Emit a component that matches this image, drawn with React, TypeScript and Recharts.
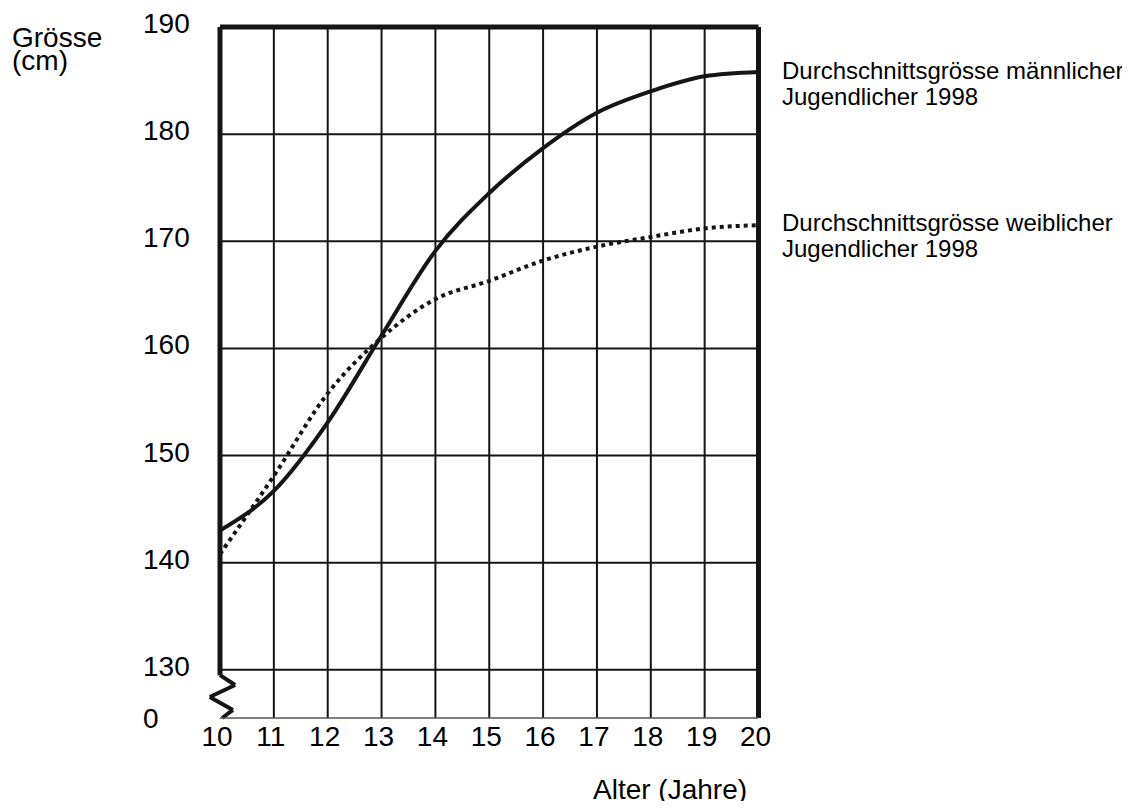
import React from "react";
import { LineChart, Line, XAxis, YAxis, ReferenceLine } from "recharts";

const years = [10, 11, 12, 13, 14, 15, 16, 17, 18, 19, 20];
const maleHeights = [143.0, 146.7, 153.1, 161.2, 169.1, 174.5, 178.7, 182.0, 184.0, 185.4, 185.8];
const femaleHeights = [140.8, 148.1, 155.8, 161.0, 164.6, 166.3, 168.2, 169.5, 170.4, 171.2, 171.5];

const yBreakValue = 125.5; // axis origin shown as "0" below the break
const yTicks = [125.5, 130, 140, 150, 160, 170, 180, 190];
const horizontalGrid = [130, 140, 150, 160, 170, 180];
const verticalGrid = [11, 12, 13, 14, 15, 16, 17, 18, 19];

const yTitle = ["Grösse", "(cm)"];
const xTitle = "Alter (Jahre)";
const maleLabel = ["Durchschnittsgrösse männlicher", "Jugendlicher 1998"];
const femaleLabel = ["Durchschnittsgrösse weiblicher", "Jugendlicher 1998"];

// break zig-zag on the y axis (data coordinates)
const breakMark = [
  { x: 10, y: 129.5 },
  { x: 10.28, y: 128.58 },
  { x: 9.81, y: 127.46 },
  { x: 10.24, y: 126.25 },
  { x: 10.04, y: 125.5 },
];

const data = years.map((yr, i) => ({ age: yr, male: maleHeights[i], female: femaleHeights[i] }));

const FONT = "Liberation Sans, Arial, Helvetica, sans-serif";
const INK = "#151515";

const XTick = (props: any) => {
  const { x, y, payload } = props;
  return (
    <text x={x - 3} y={y + 28} textAnchor="middle" fontSize={28} fontFamily={FONT} fill="#000">
      {payload.value}
    </text>
  );
};

const YTick = (props: any) => {
  const { x, y, payload } = props;
  const isBreak = payload.value === yBreakValue;
  return (
    <text x={x - 77} y={y + (isBreak ? 10 : 6)} textAnchor="start" fontSize={28} fontFamily={FONT} fill="#000">
      {isBreak ? "0" : String(payload.value)}
    </text>
  );
};

export default function App() {
  const W = 1114;
  const H = 793;
  return (
    <div style={{ position: "relative", width: W, height: H }}>
      <style>{`body{overflow:hidden}`}</style>
      <LineChart
        width={W}
        height={H}
        data={data}
        margin={{ top: 19, right: 363.5, bottom: 43, left: 0 }}
      >
        <XAxis
          dataKey="age"
          type="number"
          domain={[10, 20]}
          ticks={years}
          interval={0}
          tickLine={false}
          tickSize={0}
          tickMargin={0}
          height={40}
          axisLine={{ stroke: "#555", strokeWidth: 1.5 }}
          tick={<XTick />}
        />
        <YAxis
          type="number"
          domain={[yBreakValue, 190]}
          ticks={yTicks}
          interval={0}
          width={212}
          axisLine={false}
          tickLine={false}
          tickSize={0}
          tickMargin={0}
          tick={<YTick />}
          allowDataOverflow
        />
        {horizontalGrid.map((v) => (
          <ReferenceLine key={"h" + v} y={v} stroke={INK} strokeWidth={2} />
        ))}
        {verticalGrid.map((v) => (
          <ReferenceLine key={"v" + v} x={v} stroke={INK} strokeWidth={2} />
        ))}
        <ReferenceLine y={190} stroke={INK} strokeWidth={5} />
        <ReferenceLine x={20} stroke={INK} strokeWidth={5} />
        <ReferenceLine
          segment={[{ x: 10, y: 129.5 }, { x: 10, y: 190 }]}
          stroke={INK}
          strokeWidth={5}
          ifOverflow="visible"
        />
        {breakMark.slice(0, -1).map((p, i) => (
          <ReferenceLine
            key={"b" + i}
            segment={[p, breakMark[i + 1]]}
            stroke={INK}
            strokeWidth={4}
            ifOverflow="visible"
          />
        ))}
        <Line
          dataKey="female"
          type="monotone"
          stroke={INK}
          strokeWidth={4}
          strokeDasharray="4 4"
          dot={false}
          activeDot={false}
          isAnimationActive={false}
        />
        <Line
          dataKey="male"
          type="monotone"
          stroke={INK}
          strokeWidth={4}
          dot={false}
          activeDot={false}
          isAnimationActive={false}
        />
      </LineChart>
      <svg
        width={W}
        height={H}
        style={{ position: "absolute", left: 0, top: 0, overflow: "visible", pointerEvents: "none" }}
      >
        <g fontFamily={FONT} fill="#000">
          <text x={4} y={39} fontSize={28}>{yTitle[0]}</text>
          <text x={4} y={62} fontSize={28}>{yTitle[1]}</text>
          <text x={585} y={791} fontSize={28}>{xTitle}</text>
          <text x={774} y={71} fontSize={24}>{maleLabel[0]}</text>
          <text x={774} y={97} fontSize={24}>{maleLabel[1]}</text>
          <text x={774} y={223} fontSize={24}>{femaleLabel[0]}</text>
          <text x={774} y={249} fontSize={24}>{femaleLabel[1]}</text>
        </g>
      </svg>
    </div>
  );
}
